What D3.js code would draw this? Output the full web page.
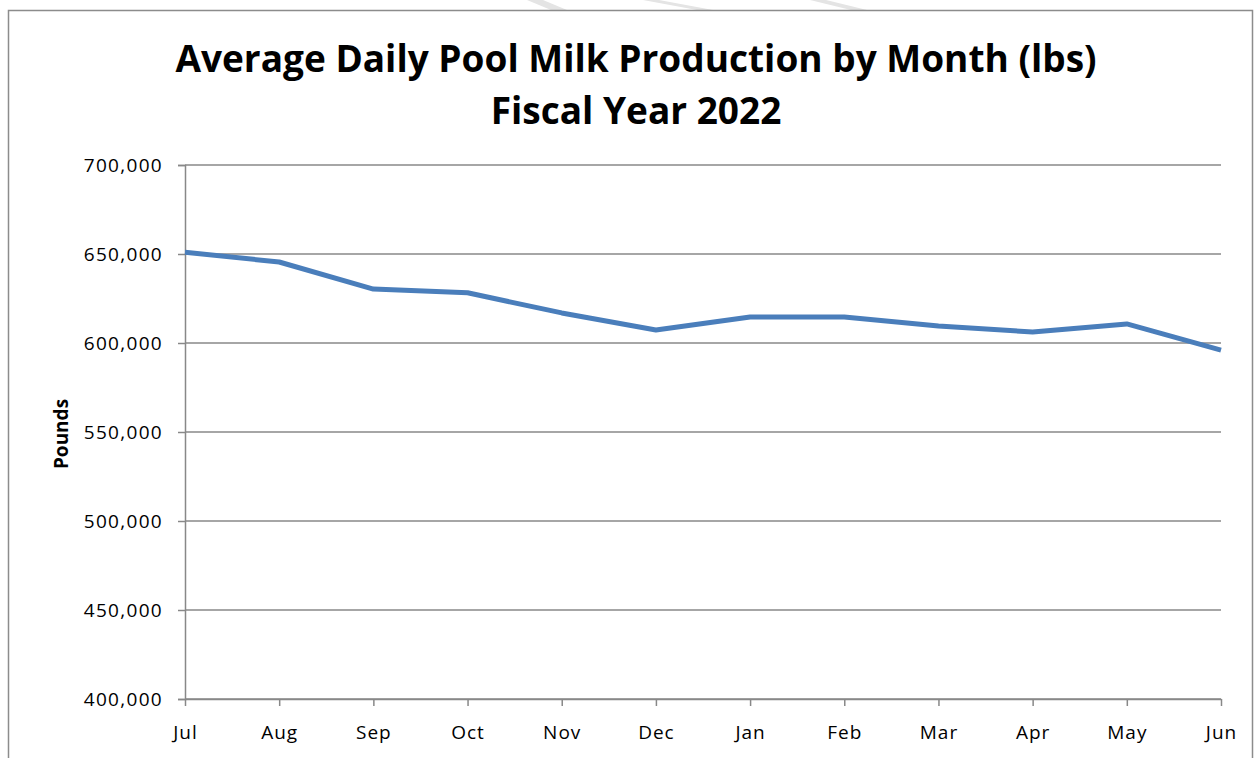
<!DOCTYPE html>
<html>
<head>
<meta charset="utf-8">
<script src="https://cdn.jsdelivr.net/npm/d3@7"></script>
<style>
  body { margin: 0; background: #fff; }
  svg { display: block; }
</style>
</head>
<body>
<svg></svg>
<script>
// data
const months = ["Jul", "Aug", "Sep", "Oct", "Nov", "Dec", "Jan", "Feb", "Mar", "Apr", "May", "Jun"]
const pounds = [651000, 645500, 630300, 628200, 616900, 607300, 614600, 614600, 609600, 606200, 610700, 596000]
const yTicks = [400000, 450000, 500000, 550000, 600000, 650000, 700000]
const titleLines = ["Average Daily Pool Milk Production by Month (lbs)", "Fiscal Year 2022"]

// constants
const width = 1260
const height = 758
const margin = { left: 185, right: 1221, top: 165, bottom: 699 }
const lineColour = "#4A7EBB"
const gridColour = "#888888"
const font = "'Open Sans', 'Noto Sans', sans-serif"

const svg = d3.select("svg")
  .attr("width", width)
  .attr("height", height)

// faint diagonal stripes peeking at the top of the page
const stripes = [[527, 567], [643, 713], [810, 867]]
svg.selectAll(".stripe")
  .data(stripes)
  .join("polygon")
  .classed("stripe", true)
    .attr("points", d => `${d[0]},0 ${d[0] + 16},0 ${d[1]},10 ${d[1] - 16},10`)
    .attr("fill", "#e4e4e4")

// chart frame
svg.append("path")
  .attr("d", `M8.5,${height} V10.5 H1252.5 V${height}`)
  .attr("fill", "none")
  .attr("stroke", "#8c8c8c")
  .attr("stroke-width", 1.5)

const x = d3.scalePoint()
  .domain(months)
  .range([margin.left, margin.right])

const y = d3.scaleLinear()
  .domain([400000, 700000])
  .range([margin.bottom, margin.top])

// gridlines
svg.append("g")
  .selectAll("line")
  .data(yTicks)
  .join("line")
    .attr("x1", margin.left)
    .attr("x2", margin.right)
    .attr("y1", d => y(d))
    .attr("y2", d => y(d))
    .attr("stroke", gridColour)
    .attr("stroke-width", 1.5)

// y axis
const yAxis = svg.append("g")
  .attr("transform", `translate(${margin.left},0)`)
  .call(d3.axisLeft(y).tickValues(yTicks).tickSize(7).tickPadding(15)
    .tickFormat(d3.format(",")))
yAxis.selectAll("path, line").attr("stroke", gridColour).attr("stroke-width", 1.5)
yAxis.selectAll("text")
  .attr("font-family", font)
  .attr("font-size", 19)
  .attr("letter-spacing", 1.3)
  .attr("fill", "#000")

// x axis
const xAxis = svg.append("g")
  .attr("transform", `translate(0,${margin.bottom})`)
  .call(d3.axisBottom(x).tickSize(7).tickSizeOuter(0).tickPadding(20))
xAxis.select(".domain").attr("stroke", gridColour).attr("stroke-width", 1.5)
xAxis.selectAll("line").attr("stroke", gridColour).attr("stroke-width", 1.5)
xAxis.selectAll("text")
  .attr("font-family", font)
  .attr("font-size", 19)
  .attr("letter-spacing", 1)
  .attr("fill", "#000")

// series line
svg.append("path")
  .datum(pounds)
  .attr("fill", "none")
  .attr("stroke", lineColour)
  .attr("stroke-width", 5)
  .attr("stroke-linejoin", "round")
  .attr("d", d3.line()
    .x((d, i) => x(months[i]))
    .y(d => y(d)))

// title
svg.append("g")
  .selectAll("text")
  .data(titleLines)
  .join("text")
    .attr("x", 636)
    .attr("y", (d, i) => 72 + i * 52)
    .attr("text-anchor", "middle")
    .attr("font-family", font)
    .attr("font-weight", "bold")
    .attr("font-size", 37)
    .attr("fill", "#000")
    .text(d => d)

// y axis title
svg.append("text")
  .attr("transform", "translate(68,434) rotate(-90)")
  .attr("text-anchor", "middle")
  .attr("font-family", font)
  .attr("font-weight", "bold")
  .attr("font-size", 19)
  .attr("fill", "#000")
  .text("Pounds")
</script>
</body>
</html>
